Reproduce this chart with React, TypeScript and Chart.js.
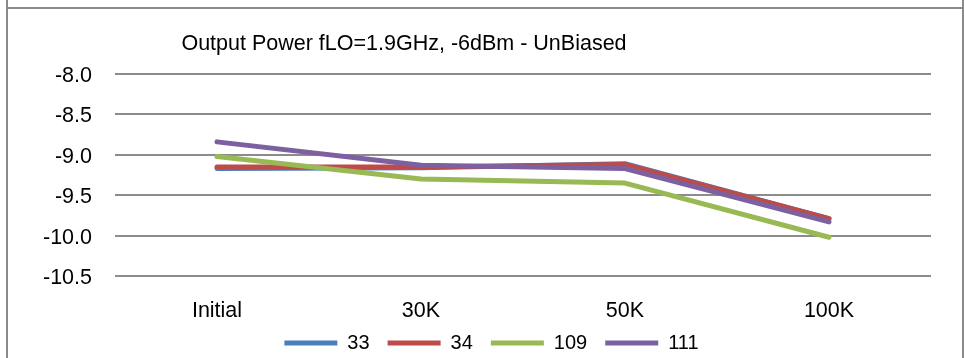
import React, { useEffect, useRef } from 'react';
import { Chart, registerables } from 'chart.js';

Chart.register(...registerables);

const categories = ['Initial', '30K', '50K', '100K'];
const seriesLabels = ['33', '34', '109', '111'];
const series33 = [-9.17, -9.16, -9.11, -9.79];
const series34 = [-9.15, -9.15, -9.12, -9.79];
const series109 = [-9.02, -9.3, -9.35, -10.02];
const series111 = [-8.84, -9.13, -9.17, -9.83];
const seriesColors = ['#4a7ebb', '#be4b48', '#98b954', '#7d60a0'];
const yMin = -10.5;
const yMax = -8.0;
const yStep = 0.5;
const titleText = 'Output Power fLO=1.9GHz, -6dBm - UnBiased';

const FONT = '"Liberation Sans", Arial, sans-serif';

const titlePlugin = {
  id: 'customTitle',
  afterLayout(chart: any) {
    // let axis labels extend beyond their boxes without being clipped
    const xs = chart.scales.x;
    if (xs) xs.bottom = xs.top + 60;
    const ys = chart.scales.y;
    if (ys) ys.left = 0;
  },
  afterDraw(chart: any) {
    const ctx = chart.ctx;
    ctx.save();
    ctx.font = `21.5px ${FONT}`;
    ctx.fillStyle = '#000';
    ctx.textAlign = 'center';
    ctx.textBaseline = 'alphabetic';
    ctx.fillText(titleText, chart.chartArea.left + 289, 50);
    ctx.restore();
  },
};

export default function App() {
  const canvasRef = useRef<HTMLCanvasElement | null>(null);

  useEffect(() => {
    document.body.style.margin = '0';
    const allSeries = [series33, series34, series109, series111];
    const chart = new Chart(canvasRef.current as HTMLCanvasElement, {
      type: 'line',
      data: {
        labels: categories,
        datasets: allSeries.map((s, i) => ({
          label: seriesLabels[i],
          data: s,
          borderColor: seriesColors[i],
          backgroundColor: seriesColors[i],
          borderWidth: 5,
          borderCapStyle: 'round',
          borderJoinStyle: 'round',
          pointRadius: 0,
          pointHoverRadius: 0,
          pointStyle: 'line',
          tension: 0,
          fill: false,
          order: allSeries.length - 1 - i,
        })),
      },
      options: {
        animation: false,
        responsive: false,
        devicePixelRatio: 1,
        layout: { padding: { left: 52, right: 33, top: 74, bottom: -5 } },
        plugins: {
          title: { display: false },
          tooltip: { enabled: false },
          legend: {
            display: true,
            position: 'bottom',
            labels: {
              usePointStyle: true,
              pointStyle: 'line',
              pointStyleWidth: 53,
              padding: 18,
              color: '#000',
              font: { family: FONT, size: 20 },
              sort: (a: any, b: any) => a.datasetIndex - b.datasetIndex,
            },
          },
        },
        scales: {
          x: {
            offset: true,
            grid: { display: false, drawTicks: false },
            border: { display: false },
            ticks: { color: '#000', font: { family: FONT, size: 21.5 }, padding: 22, maxRotation: 0 },
            afterFit: (s: any) => { s.height = 39; },
          },
          y: {
            min: yMin,
            max: yMax,
            grid: { color: '#8c8c8c', lineWidth: 2, drawTicks: false },
            border: { display: false },
            ticks: {
              stepSize: yStep,
              color: '#000',
              font: { family: FONT, size: 21.5 },
              padding: 23,
              labelOffset: 2,
              callback: (v: any) => Number(v).toFixed(1),
            },
            afterFit: (s: any) => { s.width = 63; },
          },
        },
      },
      plugins: [titlePlugin],
    } as any);
    return () => chart.destroy();
  }, []);

  const line = '#8a8a8a';
  return (
    <div style={{ position: 'relative', width: 964, height: 358, background: '#fff', overflow: 'hidden' }}>
      <canvas ref={canvasRef} width={964} height={358} style={{ position: 'absolute', left: 0, top: 0 }} />
      <div style={{ position: 'absolute', left: 6, top: 0, width: 2, height: 358, background: line }} />
      <div style={{ position: 'absolute', left: 962, top: 0, width: 2, height: 358, background: line }} />
      <div style={{ position: 'absolute', left: 6, top: 7, width: 958, height: 2, background: line }} />
    </div>
  );
}
